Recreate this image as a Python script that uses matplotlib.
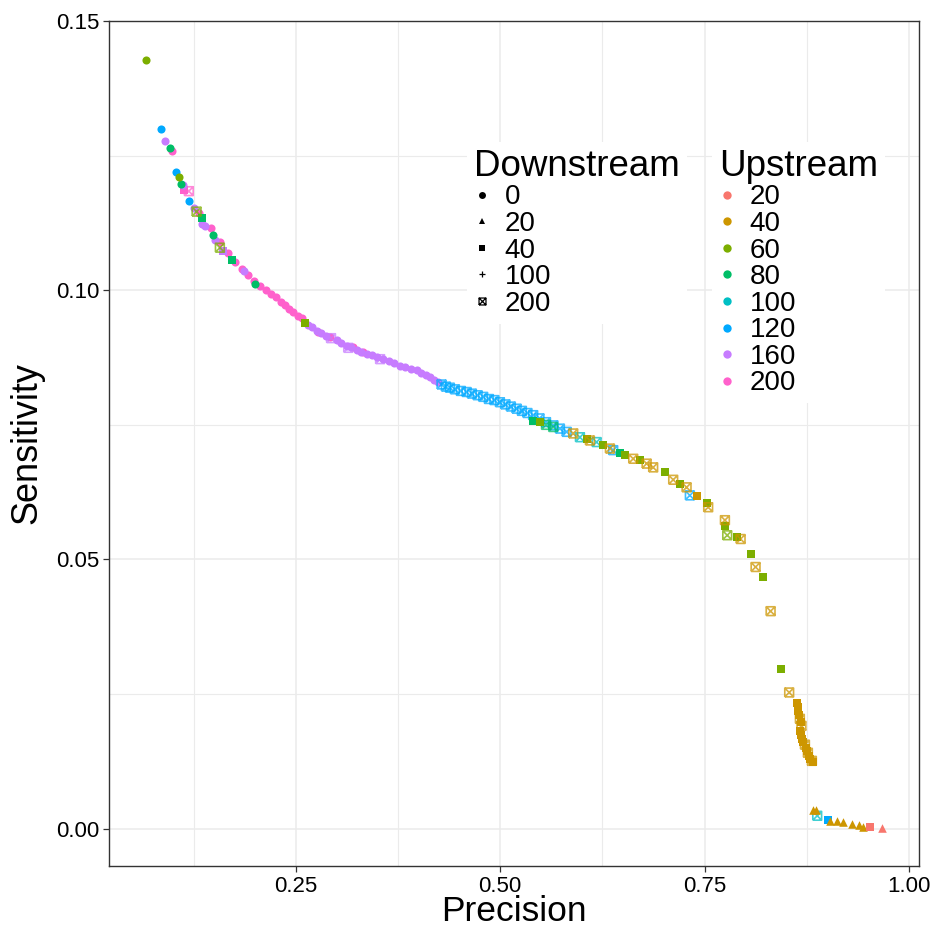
import matplotlib.pyplot as plt
from matplotlib.lines import Line2D
from matplotlib.path import Path

plt.rcParams["font.family"] = ["Liberation Sans", "DejaVu Sans"]

upstream_levels = [20, 40, 60, 80, 100, 120, 160, 200]
upstream_colors = ["#F8766D", "#CD9600", "#7CAE00", "#00BE67",
                   "#00BFC4", "#00A9FF", "#C77CFF", "#FF61CC"]
downstream_levels = [0, 20, 40, 100, 200]

# (precision, sensitivity) for each upstream / downstream window pair
up200_d0 = [(0.0979, 0.1258), (0.1317, 0.1143), (0.1460, 0.1115), (0.1570, 0.1090),
            (0.1668, 0.1070), (0.1753, 0.1053), (0.1843, 0.1040), (0.1916, 0.1029),
            (0.1982, 0.1017), (0.2063, 0.1007), (0.2133, 0.1001), (0.2190, 0.0993),
            (0.2251, 0.0987), (0.2312, 0.0979), (0.2365, 0.0972), (0.2414, 0.0966),
            (0.2467, 0.0959), (0.2524, 0.0953), (0.2569, 0.0948), (0.2769, 0.0923),
            (0.2916, 0.0913), (0.3197, 0.0894), (0.3319, 0.0885)]
up200_d40 = [(0.1129, 0.1187)]
up200_d200 = [(0.1190, 0.1184)]

up160_d0 = [(0.0893, 0.1278), (0.1121, 0.1196), (0.1252, 0.1152), (0.1346, 0.1123),
            (0.1386, 0.1119), (0.1509, 0.1093), (0.1863, 0.1035), (0.2647, 0.0936),
            (0.2696, 0.0931), (0.2753, 0.0925), (0.2806, 0.0920), (0.2867, 0.0915),
            (0.2998, 0.0907), (0.3050, 0.0902), (0.3120, 0.0897), (0.3173, 0.0894),
            (0.3246, 0.0889), (0.3295, 0.0886), (0.3365, 0.0882), (0.3430, 0.0879),
            (0.3491, 0.0876), (0.3568, 0.0873), (0.3638, 0.0869), (0.3699, 0.0865),
            (0.3772, 0.0860), (0.3833, 0.0857), (0.3907, 0.0854), (0.3977, 0.0851),
            (0.4029, 0.0846), (0.4090, 0.0842), (0.4139, 0.0839), (0.4188, 0.0834),
            (0.4241, 0.0829)]
up160_d40 = [(0.1610, 0.1072)]
up160_d100 = [(0.1855, 0.1030)]
up160_d200 = [(0.2930, 0.0911), (0.3140, 0.0893), (0.3530, 0.0872)]

up120_d0 = [(0.0848, 0.1300), (0.1031, 0.1220), (0.1187, 0.1166)]
up120_d40 = [(0.9005, 0.0017)]
up120_d100 = [(0.1187, 0.1166), (0.1684, 0.1058)]
up120_d200 = [(0.4282, 0.0825), (0.4335, 0.0821), (0.4384, 0.0819), (0.4445, 0.0816),
              (0.4518, 0.0813), (0.4588, 0.0811), (0.4653, 0.0808), (0.4723, 0.0805),
              (0.4791, 0.0802), (0.4861, 0.0798), (0.4928, 0.0796), (0.4996, 0.0792),
              (0.5063, 0.0788), (0.5130, 0.0784), (0.5200, 0.0780), (0.5265, 0.0776),
              (0.5332, 0.0772), (0.5403, 0.0768), (0.5480, 0.0762), (0.5560, 0.0755),
              (0.5650, 0.0749), (0.5730, 0.0743), (0.5812, 0.0737), (0.6382, 0.0703),
              (0.7320, 0.0619)]

up100_d100 = [(0.6647, 0.0681), (0.6913, 0.0663), (0.7015, 0.0653), (0.7626, 0.0585),
              (0.7831, 0.0542), (0.7953, 0.0517), (0.8230, 0.0437), (0.8381, 0.0373),
              (0.8516, 0.0279)]
up100_d200 = [(0.5975, 0.0727), (0.6179, 0.0718), (0.8878, 0.0024)]

up80_d0 = [(0.0958, 0.1265), (0.1093, 0.1198), (0.1488, 0.1102), (0.2002, 0.1011)]
up80_d40 = [(0.1346, 0.1135), (0.1720, 0.1056), (0.5403, 0.0758), (0.6464, 0.0697)]
up80_d200 = [(0.5648, 0.0746), (0.5560, 0.0750)]

up60_d0 = [(0.0664, 0.1427), (0.1064, 0.1211)]
up60_d40 = [(0.2610, 0.0939), (0.5485, 0.0755), (0.6057, 0.0724), (0.6260, 0.0712),
            (0.6525, 0.0694), (0.6709, 0.0684), (0.7015, 0.0663), (0.7198, 0.0641),
            (0.7525, 0.0604), (0.7749, 0.0562), (0.7892, 0.0542), (0.8063, 0.0510),
            (0.8210, 0.0467), (0.8430, 0.0297)]
up60_d200 = [(0.1285, 0.1146), (0.1570, 0.1079), (0.7777, 0.0545)]

up40_d20 = [(0.8829, 0.0034), (0.8862, 0.0035), (0.9034, 0.0015), (0.9123, 0.0015),
            (0.9196, 0.0012), (0.9299, 0.0009), (0.9388, 0.0007), (0.9434, 0.0004)]
up40_d40 = [(0.7402, 0.0617), (0.8633, 0.0233), (0.8642, 0.0226), (0.8648, 0.0219),
            (0.8660, 0.0211), (0.8679, 0.0198), (0.8672, 0.0182), (0.8685, 0.0174),
            (0.8697, 0.0167), (0.8709, 0.0161), (0.8740, 0.0150), (0.8752, 0.0145),
            (0.8777, 0.0135), (0.8795, 0.0130), (0.8832, 0.0124)]
up40_d100 = [(0.8156, 0.0477), (0.8360, 0.0404)]
up40_d200 = [(0.5893, 0.0734), (0.6097, 0.0721), (0.6342, 0.0706), (0.6627, 0.0687),
             (0.6791, 0.0678), (0.6871, 0.0671), (0.7116, 0.0648), (0.7280, 0.0634),
             (0.7544, 0.0597), (0.7749, 0.0573), (0.7941, 0.0538), (0.8124, 0.0486),
             (0.8308, 0.0404), (0.8535, 0.0253), (0.8666, 0.0204), (0.8685, 0.0191),
             (0.8728, 0.0156), (0.8764, 0.0141), (0.8813, 0.0126)]

up20_d20 = [(0.9673, 0.0002)]
up20_d40 = [(0.9523, 0.0003)]

series = [
    (200, 0, up200_d0), (200, 40, up200_d40), (200, 200, up200_d200),
    (160, 0, up160_d0), (160, 40, up160_d40), (160, 100, up160_d100),
    (160, 200, up160_d200),
    (120, 0, up120_d0), (120, 40, up120_d40), (120, 100, up120_d100),
    (120, 200, up120_d200),
    (100, 100, up100_d100), (100, 200, up100_d200),
    (80, 0, up80_d0), (80, 40, up80_d40), (80, 200, up80_d200),
    (60, 0, up60_d0), (60, 40, up60_d40), (60, 200, up60_d200),
    (40, 20, up40_d20), (40, 40, up40_d40), (40, 100, up40_d100),
    (40, 200, up40_d200),
    (20, 20, up20_d20), (20, 40, up20_d40),
]

# square with a cross through it (ggplot shape 7)
box_x = Path([(-1, -1), (1, -1), (1, 1), (-1, 1), (-1, -1),
              (-1, -1), (1, 1), (-1, 1), (1, -1)],
             [Path.MOVETO, Path.LINETO, Path.LINETO, Path.LINETO, Path.LINETO,
              Path.MOVETO, Path.LINETO, Path.MOVETO, Path.LINETO])

shape_style = {
    0: dict(marker="o", s=34, filled=True),
    20: dict(marker="^", s=38, filled=True),
    40: dict(marker="s", s=30, filled=True),
    100: dict(marker="+", s=70, filled=False),
    200: dict(marker=box_x, s=40, filled=False),
}

fig = plt.figure(figsize=(9.33, 9.30), dpi=100)
ax = fig.add_axes([109 / 933, 64 / 930, 810 / 933, 845 / 930])

all_x, all_y = [], []
for up, down, pts in series:
    xs = [p[0] for p in pts]
    ys = [p[1] for p in pts]
    all_x += xs
    all_y += ys
    color = upstream_colors[upstream_levels.index(up)]
    st = shape_style[down]
    if st["filled"]:
        ax.scatter(xs, ys, marker=st["marker"], s=st["s"], color=color,
                   linewidths=0, zorder=3)
    else:
        ax.scatter(xs, ys, marker=st["marker"], s=st["s"], facecolors="none",
                   edgecolors=color, linewidths=1.2, alpha=0.75, zorder=3)

# ggplot-style 5% expansion
x_lo, x_hi = min(all_x), max(all_x)
y_lo, y_hi = min(all_y), max(all_y)
ax.set_xlim(x_lo - 0.05 * (x_hi - x_lo), x_hi + 0.05 * (x_hi - x_lo))
ax.set_ylim(y_lo - 0.05 * (y_hi - y_lo), y_hi + 0.05 * (y_hi - y_lo))

ax.set_xticks([0.25, 0.50, 0.75, 1.00])
ax.set_xticklabels(["0.25", "0.50", "0.75", "1.00"])
ax.set_yticks([0.00, 0.05, 0.10, 0.15])
ax.set_yticklabels(["0.00", "0.05", "0.10", "0.15"])
ax.set_xticks([0.125, 0.375, 0.625, 0.875], minor=True)
ax.set_yticks([0.025, 0.075, 0.125], minor=True)

ax.grid(which="major", color="#EBEBEB", linewidth=1.1)
ax.grid(which="minor", color="#EBEBEB", linewidth=0.8)
ax.set_axisbelow(True)
ax.tick_params(which="major", length=4, width=0.9, color="#333333",
               labelsize=16, labelcolor="black", pad=3)
ax.tick_params(which="minor", length=0)
for sp in ax.spines.values():
    sp.set_color("#333333")
    sp.set_linewidth(1.0)

ax.set_xlabel("Precision", fontsize=25.5, labelpad=-1)
ax.set_ylabel("Sensitivity", fontsize=26, labelpad=8)

# legends
down_handles = []
for d in downstream_levels:
    st = shape_style[d]
    if st["filled"]:
        h = Line2D([], [], linestyle="none", marker=st["marker"], markersize=5,
                   color="black", markeredgewidth=0)
    else:
        h = Line2D([], [], linestyle="none", marker=st["marker"], markersize=5,
                   markerfacecolor="none", markeredgecolor="black",
                   markeredgewidth=0.9)
    down_handles.append(h)
up_handles = [Line2D([], [], linestyle="none", marker="o", markersize=6,
                     color=c, markeredgewidth=0) for c in upstream_colors]

leg_kw = dict(loc="upper left", frameon=True, framealpha=1, edgecolor="none",
              facecolor="white", fancybox=False, fontsize=20,
              title_fontsize=26.5, alignment="left", handlelength=0.6,
              handletextpad=0.5, labelspacing=0.02, borderpad=0.25,
              borderaxespad=0, bbox_transform=fig.transFigure)
leg1 = ax.legend(down_handles, [str(d) for d in downstream_levels],
                 title="Downstream",
                 bbox_to_anchor=(467 / 933, 1 - 142 / 930), **leg_kw)
ax.add_artist(leg1)
leg2 = ax.legend(up_handles, [str(u) for u in upstream_levels],
                 title="Upstream",
                 bbox_to_anchor=(712 / 933, 1 - 142 / 930), **leg_kw)

fig.savefig("out.png", dpi=100)
